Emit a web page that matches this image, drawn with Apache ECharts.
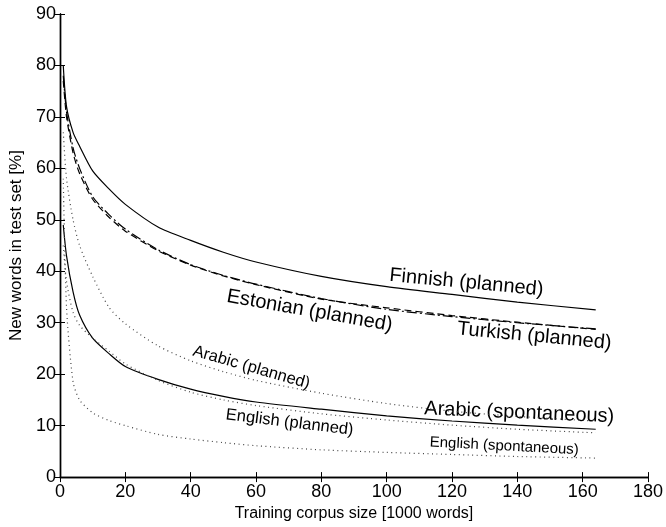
<!DOCTYPE html>
<html>
<head>
<meta charset="utf-8">
<script src="https://cdn.jsdelivr.net/npm/echarts@6/dist/echarts.min.js"></script>
<style>
  html, body { margin: 0; padding: 0; background: #fff; }
  #main { width: 666px; height: 527px; }
</style>
</head>
<body>
<div id="main"></div>
<script>
// training corpus size, thousands of words
const corpusSize = [1, 2, 4, 6, 10, 15, 20, 30, 40, 50, 60, 80, 100, 120, 140, 164];

// new words in test set, %
const finnishPlanned    = [80, 72, 67, 64.3, 59.5, 56, 53, 48.6, 46, 43.7, 41.8, 39, 37, 35.5, 34, 32.5];
const estonianPlanned   = [78, 71, 64, 60, 54.5, 51, 48.2, 44.2, 41.3, 39.2, 37.5, 34.7, 32.6, 31.2, 30, 28.8];
const turkishPlanned    = [77, 70, 63, 59, 54, 50.5, 47.8, 44, 41.2, 39.1, 37.4, 34.6, 32.9, 31.4, 30.1, 28.7];
const arabicSpontaneous = [49, 43, 36, 31.5, 27, 24, 21.5, 19, 17.1, 15.7, 14.6, 13.2, 11.9, 10.9, 10.1, 9.3];
const arabicPlanned     = [67, 58, 50, 45, 39, 33, 29.8, 25.5, 22.6, 20.5, 18.8, 16.3, 14.3, 12.8, 11.8, 10.9];
const englishPlanned    = [45, 38, 32, 29.5, 27, 24.5, 22, 18.8, 16.5, 15, 13.9, 12.3, 11.1, 10.1, 9.3, 8.6];
const englishSpont      = [58, 33, 18.5, 15, 12.5, 11, 10, 8.3, 7.4, 6.7, 6.1, 5.3, 4.8, 4.4, 4, 3.7];

const xTicks = [0, 20, 40, 60, 80, 100, 120, 140, 160, 180];
const yTicks = [0, 10, 20, 30, 40, 50, 60, 70, 80, 90];

// where each curve's name is written (data coords), tilt in degrees
const curveLabels = [
  {text: 'Finnish (planned)', at: [124.4, 37.8], tilt: 5.4, size: 20},
  {text: 'Estonian (planned)', at: [76.4, 32.3], tilt: 10, size: 20},
  {text: 'Turkish (planned)', at: [145.2, 27.4], tilt: 5.4, size: 20},
  {text: 'Arabic (planned)', at: [58.6, 21.3], tilt: 16, size: 16.5},
  {text: 'Arabic (spontaneous)', at: [140.6, 12.5], tilt: 2.4, size: 20},
  {text: 'English (planned)', at: [70.3, 10.6], tilt: 7, size: 16.5},
  {text: 'English (spontaneous)', at: [136, 6.0], tilt: 3, size: 15}
];

const FONT = '"Liberation Sans", Arial, sans-serif';

function pairs(ys) {
  return corpusSize.map((x, i) => [x, ys[i]]);
}

function curve(name, ys, type, color) {
  return {
    name: name,
    type: 'line',
    data: pairs(ys),
    showSymbol: false,
    smooth: 0.25,
    silent: true,
    lineStyle: {color: color || '#000', width: 1.2, type: type}
  };
}

const chart = echarts.init(document.getElementById('main'));

const axisLine = {show: true, lineStyle: {color: '#000', width: 1.4}};
const axisTick = {show: true, inside: true, length: 5, lineStyle: {color: '#000', width: 1}};

const options = {
  animation: false,
  backgroundColor: '#fff',
  grid: {left: 60, right: 17, top: 14, bottom: 49},
  xAxis: [
    {
      type: 'value', min: 0, max: 180, interval: 20,
      name: 'Training corpus size [1000 words]',
      nameLocation: 'middle', nameGap: 26,
      nameTextStyle: {fontFamily: FONT, fontSize: 16, color: '#000'},
      axisLine: axisLine, axisTick: axisTick, splitLine: {show: false},
      axisLabel: {
        fontFamily: FONT, fontSize: 18, color: '#000', margin: 6,
        formatter: v => xTicks.includes(v) ? String(v) : ''
      }
    },
    {
      type: 'value', min: 0, max: 180, interval: 20, position: 'top',
      axisLine: axisLine, axisTick: axisTick, axisLabel: {show: false}, splitLine: {show: false}
    }
  ],
  yAxis: [
    {
      type: 'value', min: 0, max: 90, interval: 10,
      name: 'New words in test set [%]',
      nameLocation: 'middle', nameGap: 32,
      nameTextStyle: {fontFamily: FONT, fontSize: 17, color: '#000'},
      axisLine: axisLine, axisTick: axisTick, splitLine: {show: false},
      axisLabel: {
        fontFamily: FONT, fontSize: 18, color: '#000', margin: 4,
        formatter: v => yTicks.includes(v) ? String(v) : ''
      }
    },
    {
      type: 'value', min: 0, max: 90, interval: 10, position: 'right',
      axisLine: axisLine, axisTick: axisTick, axisLabel: {show: false}, splitLine: {show: false}
    }
  ],
  series: [
    curve('Finnish (planned)', finnishPlanned, 'solid'),
    curve('Estonian (planned)', estonianPlanned, [10, 3, 2, 3]),
    curve('Turkish (planned)', turkishPlanned, [7, 4]),
    curve('Arabic (spontaneous)', arabicSpontaneous, 'solid'),
    curve('Arabic (planned)', arabicPlanned, [1, 3.5], '#444'),
    curve('English (planned)', englishPlanned, [1, 3.5], '#444'),
    curve('English (spontaneous)', englishSpont, [1, 3.5], '#444')
  ]
};

chart.setOption(options);

// place the curve names through the axes' own scale
chart.setOption({
  graphic: curveLabels.map(l => {
    const p = chart.convertToPixel({gridIndex: 0}, l.at);
    return {
      type: 'text',
      x: p[0], y: p[1],
      rotation: -l.tilt * Math.PI / 180,
      silent: true,
      style: {
        text: l.text, fontFamily: FONT, fontSize: l.size, fill: '#000',
        align: 'center', verticalAlign: 'middle'
      }
    };
  })
});
</script>
</body>
</html>
